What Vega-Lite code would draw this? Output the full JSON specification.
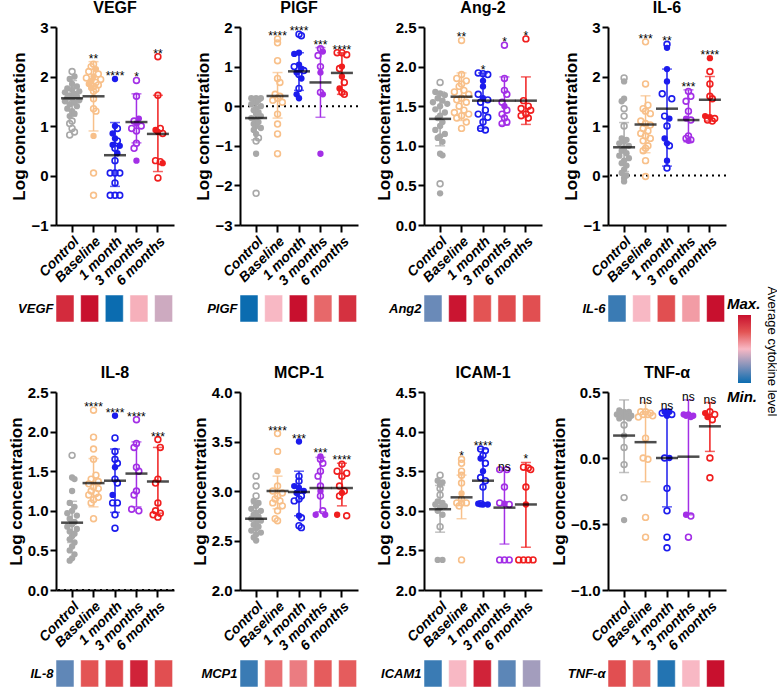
{
"$schema": "https://vega.github.io/schema/vega-lite/v6.json",
"padding": {"left": 7, "top": 0, "right": 0, "bottom": 0},
"columns": 4,
"bounds": "flush",
"align": "each",
"spacing": {"row": 70, "column": 62},
"datasets": {
"d": [
{"p":"VEGF","g":"C","v":2.1,"j":0,"f":0},{"p":"VEGF","g":"C","v":2.0,"j":1,"f":1},{"p":"VEGF","g":"C","v":1.95,"j":-1,"f":1},{"p":"VEGF","g":"C","v":1.85,"j":0,"f":1},{"p":"VEGF","g":"C","v":1.8,"j":2,"f":1},{"p":"VEGF","g":"C","v":1.76,"j":-2,"f":1},{"p":"VEGF","g":"C","v":1.73,"j":0,"f":1},{"p":"VEGF","g":"C","v":1.7,"j":3,"f":1},{"p":"VEGF","g":"C","v":1.68,"j":-3,"f":1},{"p":"VEGF","g":"C","v":1.65,"j":1,"f":1},{"p":"VEGF","g":"C","v":1.62,"j":-1,"f":1},{"p":"VEGF","g":"C","v":1.6,"j":2,"f":1},{"p":"VEGF","g":"C","v":1.57,"j":-2,"f":1},{"p":"VEGF","g":"C","v":1.55,"j":0,"f":1},{"p":"VEGF","g":"C","v":1.52,"j":3,"f":1},{"p":"VEGF","g":"C","v":1.5,"j":-3,"f":1},{"p":"VEGF","g":"C","v":1.47,"j":1,"f":1},{"p":"VEGF","g":"C","v":1.44,"j":-1,"f":1},{"p":"VEGF","g":"C","v":1.4,"j":2,"f":1},{"p":"VEGF","g":"C","v":1.35,"j":-2,"f":1},{"p":"VEGF","g":"C","v":1.3,"j":0,"f":1},{"p":"VEGF","g":"C","v":1.25,"j":1,"f":1},{"p":"VEGF","g":"C","v":1.2,"j":-1,"f":1},{"p":"VEGF","g":"C","v":1.1,"j":0,"f":0},{"p":"VEGF","g":"C","v":1.05,"j":-1,"f":0},{"p":"VEGF","g":"C","v":0.95,"j":0,"f":0},{"p":"VEGF","g":"C","v":0.88,"j":1,"f":0},{"p":"VEGF","g":"C","v":0.82,"j":-1,"f":0},
{"p":"VEGF","g":"B","v":2.25,"j":0,"f":0},{"p":"VEGF","g":"B","v":2.2,"j":-1,"f":0},{"p":"VEGF","g":"B","v":2.15,"j":1,"f":1},{"p":"VEGF","g":"B","v":2.1,"j":-2,"f":0},{"p":"VEGF","g":"B","v":2.05,"j":2,"f":0},{"p":"VEGF","g":"B","v":2.0,"j":0,"f":1},{"p":"VEGF","g":"B","v":1.97,"j":-3,"f":0},{"p":"VEGF","g":"B","v":1.94,"j":3,"f":0},{"p":"VEGF","g":"B","v":1.91,"j":-1,"f":1},{"p":"VEGF","g":"B","v":1.88,"j":1,"f":0},{"p":"VEGF","g":"B","v":1.85,"j":-2,"f":1},{"p":"VEGF","g":"B","v":1.83,"j":2,"f":0},{"p":"VEGF","g":"B","v":1.8,"j":0,"f":0},{"p":"VEGF","g":"B","v":1.77,"j":-1,"f":1},{"p":"VEGF","g":"B","v":1.74,"j":1,"f":0},{"p":"VEGF","g":"B","v":1.7,"j":0,"f":0},{"p":"VEGF","g":"B","v":1.55,"j":0,"f":0},{"p":"VEGF","g":"B","v":1.35,"j":0,"f":0},{"p":"VEGF","g":"B","v":1.3,"j":1,"f":0},{"p":"VEGF","g":"B","v":0.8,"j":0,"f":1},{"p":"VEGF","g":"B","v":0.05,"j":0,"f":0},{"p":"VEGF","g":"B","v":-0.4,"j":0,"f":0},
{"p":"VEGF","g":"1","v":1.95,"j":0,"f":1},{"p":"VEGF","g":"1","v":1.0,"j":0,"f":1},{"p":"VEGF","g":"1","v":0.95,"j":1,"f":0},{"p":"VEGF","g":"1","v":0.85,"j":-1,"f":1},{"p":"VEGF","g":"1","v":0.75,"j":0,"f":1},{"p":"VEGF","g":"1","v":0.7,"j":1,"f":0},{"p":"VEGF","g":"1","v":0.62,"j":-1,"f":1},{"p":"VEGF","g":"1","v":0.6,"j":2,"f":1},{"p":"VEGF","g":"1","v":0.55,"j":0,"f":0},{"p":"VEGF","g":"1","v":0.45,"j":1,"f":1},{"p":"VEGF","g":"1","v":0.3,"j":0,"f":0},{"p":"VEGF","g":"1","v":0.05,"j":-2,"f":0},{"p":"VEGF","g":"1","v":0.05,"j":0,"f":0},{"p":"VEGF","g":"1","v":0.05,"j":2,"f":0},{"p":"VEGF","g":"1","v":-0.15,"j":0,"f":0},{"p":"VEGF","g":"1","v":-0.4,"j":-2,"f":0},{"p":"VEGF","g":"1","v":-0.4,"j":0,"f":0},{"p":"VEGF","g":"1","v":-0.4,"j":2,"f":0},
{"p":"VEGF","g":"3","v":1.92,"j":0,"f":0},{"p":"VEGF","g":"3","v":1.6,"j":0,"f":0},{"p":"VEGF","g":"3","v":1.15,"j":1,"f":1},{"p":"VEGF","g":"3","v":1.1,"j":-1,"f":0},{"p":"VEGF","g":"3","v":1.05,"j":0,"f":1},{"p":"VEGF","g":"3","v":1.0,"j":2,"f":0},{"p":"VEGF","g":"3","v":0.95,"j":-2,"f":0},{"p":"VEGF","g":"3","v":0.9,"j":0,"f":0},{"p":"VEGF","g":"3","v":0.65,"j":0,"f":0},{"p":"VEGF","g":"3","v":0.55,"j":-1,"f":0},{"p":"VEGF","g":"3","v":0.3,"j":0,"f":1},
{"p":"VEGF","g":"6","v":2.4,"j":0,"f":0},{"p":"VEGF","g":"6","v":1.62,"j":0,"f":0},{"p":"VEGF","g":"6","v":0.95,"j":1,"f":0},{"p":"VEGF","g":"6","v":0.92,"j":-1,"f":1},{"p":"VEGF","g":"6","v":0.88,"j":0,"f":1},{"p":"VEGF","g":"6","v":0.85,"j":2,"f":0},{"p":"VEGF","g":"6","v":0.3,"j":-1,"f":0},{"p":"VEGF","g":"6","v":0.28,"j":1,"f":0},{"p":"VEGF","g":"6","v":0.25,"j":2,"f":1},{"p":"VEGF","g":"6","v":-0.05,"j":0,"f":0},
{"p":"VEGF","g":"C","m":1.56,"lo":1.2,"hi":1.92},{"p":"VEGF","g":"B","m":1.6,"lo":0.9,"hi":2.3,"s":"**"},{"p":"VEGF","g":"1","m":0.41,"lo":-0.22,"hi":1.07,"s":"****"},{"p":"VEGF","g":"3","m":1.08,"lo":0.66,"hi":1.65,"s":"*"},{"p":"VEGF","g":"6","m":0.84,"lo":0.08,"hi":1.62,"s":"**"},

{"p":"PlGF","g":"C","v":0.2,"j":0,"f":1},{"p":"PlGF","g":"C","v":0.2,"j":-2,"f":1},{"p":"PlGF","g":"C","v":0.2,"j":2,"f":1},{"p":"PlGF","g":"C","v":0.18,"j":-1,"f":1},{"p":"PlGF","g":"C","v":0.15,"j":1,"f":1},{"p":"PlGF","g":"C","v":0.1,"j":0,"f":1},{"p":"PlGF","g":"C","v":0.05,"j":-2,"f":1},{"p":"PlGF","g":"C","v":0.0,"j":2,"f":1},{"p":"PlGF","g":"C","v":-0.05,"j":0,"f":1},{"p":"PlGF","g":"C","v":-0.1,"j":-1,"f":1},{"p":"PlGF","g":"C","v":-0.15,"j":1,"f":1},{"p":"PlGF","g":"C","v":-0.2,"j":0,"f":1},{"p":"PlGF","g":"C","v":-0.25,"j":2,"f":1},{"p":"PlGF","g":"C","v":-0.3,"j":-2,"f":1},{"p":"PlGF","g":"C","v":-0.35,"j":0,"f":1},{"p":"PlGF","g":"C","v":-0.4,"j":1,"f":1},{"p":"PlGF","g":"C","v":-0.45,"j":-1,"f":1},{"p":"PlGF","g":"C","v":-0.5,"j":0,"f":1},{"p":"PlGF","g":"C","v":-0.55,"j":2,"f":1},{"p":"PlGF","g":"C","v":-0.6,"j":-1,"f":1},{"p":"PlGF","g":"C","v":-0.7,"j":0,"f":1},{"p":"PlGF","g":"C","v":-0.8,"j":1,"f":0},{"p":"PlGF","g":"C","v":-0.88,"j":0,"f":0},{"p":"PlGF","g":"C","v":-1.2,"j":0,"f":1},{"p":"PlGF","g":"C","v":-2.2,"j":0,"f":0},
{"p":"PlGF","g":"B","v":1.7,"j":0,"f":0},{"p":"PlGF","g":"B","v":1.6,"j":0,"f":0},{"p":"PlGF","g":"B","v":1.15,"j":0,"f":0},{"p":"PlGF","g":"B","v":0.7,"j":0,"f":0},{"p":"PlGF","g":"B","v":0.6,"j":1,"f":0},{"p":"PlGF","g":"B","v":0.3,"j":-1,"f":0},{"p":"PlGF","g":"B","v":0.25,"j":1,"f":0},{"p":"PlGF","g":"B","v":0.2,"j":0,"f":0},{"p":"PlGF","g":"B","v":0.15,"j":-2,"f":0},{"p":"PlGF","g":"B","v":0.1,"j":2,"f":0},{"p":"PlGF","g":"B","v":-0.2,"j":0,"f":0},{"p":"PlGF","g":"B","v":-0.45,"j":0,"f":0},{"p":"PlGF","g":"B","v":-0.7,"j":0,"f":0},{"p":"PlGF","g":"B","v":-1.2,"j":0,"f":0},
{"p":"PlGF","g":"1","v":1.82,"j":0,"f":0},{"p":"PlGF","g":"1","v":1.78,"j":1,"f":0},{"p":"PlGF","g":"1","v":1.35,"j":0,"f":1},{"p":"PlGF","g":"1","v":1.32,"j":-2,"f":1},{"p":"PlGF","g":"1","v":1.05,"j":0,"f":1},{"p":"PlGF","g":"1","v":1.0,"j":-2,"f":0},{"p":"PlGF","g":"1","v":0.95,"j":1,"f":1},{"p":"PlGF","g":"1","v":0.9,"j":2,"f":0},{"p":"PlGF","g":"1","v":0.85,"j":-1,"f":1},{"p":"PlGF","g":"1","v":0.8,"j":0,"f":0},{"p":"PlGF","g":"1","v":0.7,"j":1,"f":1},{"p":"PlGF","g":"1","v":0.45,"j":0,"f":0},{"p":"PlGF","g":"1","v":0.3,"j":-1,"f":1},{"p":"PlGF","g":"1","v":0.2,"j":0,"f":1},
{"p":"PlGF","g":"3","v":1.45,"j":0,"f":0},{"p":"PlGF","g":"3","v":1.38,"j":1,"f":1},{"p":"PlGF","g":"3","v":1.28,"j":-1,"f":0},{"p":"PlGF","g":"3","v":1.0,"j":0,"f":0},{"p":"PlGF","g":"3","v":0.85,"j":0,"f":1},{"p":"PlGF","g":"3","v":0.35,"j":0,"f":0},{"p":"PlGF","g":"3","v":0.3,"j":1,"f":1},{"p":"PlGF","g":"3","v":-1.2,"j":0,"f":1},
{"p":"PlGF","g":"6","v":1.35,"j":-2,"f":0},{"p":"PlGF","g":"6","v":1.35,"j":0,"f":0},{"p":"PlGF","g":"6","v":1.3,"j":2,"f":0},{"p":"PlGF","g":"6","v":1.0,"j":0,"f":1},{"p":"PlGF","g":"6","v":0.95,"j":-1,"f":0},{"p":"PlGF","g":"6","v":0.75,"j":0,"f":1},{"p":"PlGF","g":"6","v":0.6,"j":1,"f":0},{"p":"PlGF","g":"6","v":0.45,"j":-1,"f":1},{"p":"PlGF","g":"6","v":0.35,"j":0,"f":0},{"p":"PlGF","g":"6","v":0.3,"j":1,"f":0},
{"p":"PlGF","g":"C","m":-0.3,"lo":-0.85,"hi":0.22},{"p":"PlGF","g":"B","m":0.26,"lo":-0.3,"hi":0.85,"s":"****"},{"p":"PlGF","g":"1","m":0.88,"lo":0.4,"hi":1.35,"s":"****"},{"p":"PlGF","g":"3","m":0.6,"lo":-0.28,"hi":1.48,"s":"***"},{"p":"PlGF","g":"6","m":0.84,"lo":0.3,"hi":1.35,"s":"****"},

{"p":"Ang-2","g":"C","v":1.8,"j":0,"f":0},{"p":"Ang-2","g":"C","v":1.68,"j":-2,"f":1},{"p":"Ang-2","g":"C","v":1.66,"j":0,"f":1},{"p":"Ang-2","g":"C","v":1.64,"j":2,"f":1},{"p":"Ang-2","g":"C","v":1.6,"j":-1,"f":1},{"p":"Ang-2","g":"C","v":1.57,"j":1,"f":1},{"p":"Ang-2","g":"C","v":1.55,"j":-3,"f":1},{"p":"Ang-2","g":"C","v":1.53,"j":3,"f":1},{"p":"Ang-2","g":"C","v":1.5,"j":0,"f":1},{"p":"Ang-2","g":"C","v":1.46,"j":-2,"f":1},{"p":"Ang-2","g":"C","v":1.42,"j":2,"f":1},{"p":"Ang-2","g":"C","v":1.38,"j":0,"f":1},{"p":"Ang-2","g":"C","v":1.35,"j":-1,"f":1},{"p":"Ang-2","g":"C","v":1.3,"j":1,"f":1},{"p":"Ang-2","g":"C","v":1.25,"j":0,"f":1},{"p":"Ang-2","g":"C","v":1.2,"j":-2,"f":1},{"p":"Ang-2","g":"C","v":1.15,"j":2,"f":1},{"p":"Ang-2","g":"C","v":1.12,"j":0,"f":1},{"p":"Ang-2","g":"C","v":1.1,"j":-1,"f":1},{"p":"Ang-2","g":"C","v":1.05,"j":1,"f":1},{"p":"Ang-2","g":"C","v":0.9,"j":0,"f":1},{"p":"Ang-2","g":"C","v":0.88,"j":1,"f":1},{"p":"Ang-2","g":"C","v":0.52,"j":0,"f":0},{"p":"Ang-2","g":"C","v":0.4,"j":0,"f":1},
{"p":"Ang-2","g":"B","v":2.33,"j":0,"f":0},{"p":"Ang-2","g":"B","v":1.9,"j":0,"f":0},{"p":"Ang-2","g":"B","v":1.85,"j":-2,"f":0},{"p":"Ang-2","g":"B","v":1.82,"j":2,"f":0},{"p":"Ang-2","g":"B","v":1.78,"j":0,"f":0},{"p":"Ang-2","g":"B","v":1.75,"j":-1,"f":0},{"p":"Ang-2","g":"B","v":1.7,"j":1,"f":0},{"p":"Ang-2","g":"B","v":1.68,"j":-3,"f":0},{"p":"Ang-2","g":"B","v":1.65,"j":3,"f":0},{"p":"Ang-2","g":"B","v":1.6,"j":0,"f":0},{"p":"Ang-2","g":"B","v":1.58,"j":-2,"f":0},{"p":"Ang-2","g":"B","v":1.55,"j":2,"f":0},{"p":"Ang-2","g":"B","v":1.5,"j":-1,"f":0},{"p":"Ang-2","g":"B","v":1.45,"j":1,"f":0},{"p":"Ang-2","g":"B","v":1.42,"j":-3,"f":0},{"p":"Ang-2","g":"B","v":1.4,"j":3,"f":0},{"p":"Ang-2","g":"B","v":1.38,"j":0,"f":0},{"p":"Ang-2","g":"B","v":1.35,"j":-2,"f":0},{"p":"Ang-2","g":"B","v":1.3,"j":2,"f":0},{"p":"Ang-2","g":"B","v":1.22,"j":0,"f":0},
{"p":"Ang-2","g":"1","v":1.92,"j":-2,"f":0},{"p":"Ang-2","g":"1","v":1.91,"j":0,"f":0},{"p":"Ang-2","g":"1","v":1.9,"j":2,"f":0},{"p":"Ang-2","g":"1","v":1.82,"j":0,"f":1},{"p":"Ang-2","g":"1","v":1.75,"j":0,"f":1},{"p":"Ang-2","g":"1","v":1.65,"j":-2,"f":0},{"p":"Ang-2","g":"1","v":1.6,"j":0,"f":1},{"p":"Ang-2","g":"1","v":1.58,"j":2,"f":0},{"p":"Ang-2","g":"1","v":1.55,"j":-1,"f":0},{"p":"Ang-2","g":"1","v":1.45,"j":1,"f":0},{"p":"Ang-2","g":"1","v":1.4,"j":-2,"f":0},{"p":"Ang-2","g":"1","v":1.36,"j":2,"f":0},{"p":"Ang-2","g":"1","v":1.3,"j":0,"f":0},{"p":"Ang-2","g":"1","v":1.22,"j":-1,"f":0},{"p":"Ang-2","g":"1","v":1.2,"j":1,"f":0},
{"p":"Ang-2","g":"3","v":2.27,"j":0,"f":0},{"p":"Ang-2","g":"3","v":1.85,"j":0,"f":0},{"p":"Ang-2","g":"3","v":1.7,"j":0,"f":0},{"p":"Ang-2","g":"3","v":1.65,"j":1,"f":0},{"p":"Ang-2","g":"3","v":1.55,"j":-1,"f":0},{"p":"Ang-2","g":"3","v":1.5,"j":0,"f":1},{"p":"Ang-2","g":"3","v":1.45,"j":1,"f":0},{"p":"Ang-2","g":"3","v":1.4,"j":-1,"f":0},{"p":"Ang-2","g":"3","v":1.35,"j":0,"f":0},{"p":"Ang-2","g":"3","v":1.3,"j":1,"f":0},{"p":"Ang-2","g":"3","v":1.28,"j":-1,"f":0},
{"p":"Ang-2","g":"6","v":2.35,"j":0,"f":0},{"p":"Ang-2","g":"6","v":1.57,"j":-1,"f":0},{"p":"Ang-2","g":"6","v":1.5,"j":1,"f":0},{"p":"Ang-2","g":"6","v":1.47,"j":-2,"f":0},{"p":"Ang-2","g":"6","v":1.45,"j":2,"f":0},{"p":"Ang-2","g":"6","v":1.4,"j":0,"f":0},{"p":"Ang-2","g":"6","v":1.38,"j":-2,"f":0},{"p":"Ang-2","g":"6","v":1.35,"j":1,"f":0},
{"p":"Ang-2","g":"C","m":1.34,"lo":1.0,"hi":1.68},{"p":"Ang-2","g":"B","m":1.62,"lo":1.32,"hi":1.92,"s":"**"},{"p":"Ang-2","g":"1","m":1.57,"lo":1.22,"hi":1.92,"s":"*"},{"p":"Ang-2","g":"3","m":1.57,"lo":1.26,"hi":1.87,"s":"*"},{"p":"Ang-2","g":"6","m":1.57,"lo":1.27,"hi":1.87,"s":"*"},

{"p":"IL-6","g":"C","v":1.97,"j":0,"f":0},{"p":"IL-6","g":"C","v":1.9,"j":0,"f":1},{"p":"IL-6","g":"C","v":1.55,"j":0,"f":1},{"p":"IL-6","g":"C","v":1.5,"j":-1,"f":1},{"p":"IL-6","g":"C","v":1.35,"j":0,"f":0},{"p":"IL-6","g":"C","v":1.2,"j":0,"f":0},{"p":"IL-6","g":"C","v":1.0,"j":0,"f":0},{"p":"IL-6","g":"C","v":0.75,"j":-1,"f":1},{"p":"IL-6","g":"C","v":0.72,"j":1,"f":1},{"p":"IL-6","g":"C","v":0.68,"j":0,"f":1},{"p":"IL-6","g":"C","v":0.65,"j":-2,"f":1},{"p":"IL-6","g":"C","v":0.6,"j":2,"f":1},{"p":"IL-6","g":"C","v":0.55,"j":0,"f":1},{"p":"IL-6","g":"C","v":0.5,"j":-1,"f":1},{"p":"IL-6","g":"C","v":0.45,"j":1,"f":1},{"p":"IL-6","g":"C","v":0.4,"j":-2,"f":1},{"p":"IL-6","g":"C","v":0.35,"j":2,"f":1},{"p":"IL-6","g":"C","v":0.3,"j":0,"f":1},{"p":"IL-6","g":"C","v":0.25,"j":-1,"f":1},{"p":"IL-6","g":"C","v":0.2,"j":1,"f":1},{"p":"IL-6","g":"C","v":0.12,"j":0,"f":1},{"p":"IL-6","g":"C","v":0.05,"j":-1,"f":1},{"p":"IL-6","g":"C","v":0.0,"j":1,"f":1},{"p":"IL-6","g":"C","v":-0.05,"j":0,"f":1},{"p":"IL-6","g":"C","v":-0.12,"j":0,"f":1},
{"p":"IL-6","g":"B","v":2.7,"j":0,"f":0},{"p":"IL-6","g":"B","v":1.85,"j":0,"f":0},{"p":"IL-6","g":"B","v":1.42,"j":1,"f":0},{"p":"IL-6","g":"B","v":1.35,"j":-1,"f":0},{"p":"IL-6","g":"B","v":1.3,"j":0,"f":0},{"p":"IL-6","g":"B","v":1.25,"j":2,"f":0},{"p":"IL-6","g":"B","v":1.1,"j":-2,"f":0},{"p":"IL-6","g":"B","v":1.05,"j":0,"f":0},{"p":"IL-6","g":"B","v":1.02,"j":2,"f":0},{"p":"IL-6","g":"B","v":0.95,"j":-1,"f":0},{"p":"IL-6","g":"B","v":0.9,"j":1,"f":0},{"p":"IL-6","g":"B","v":0.85,"j":-2,"f":0},{"p":"IL-6","g":"B","v":0.8,"j":0,"f":0},{"p":"IL-6","g":"B","v":0.75,"j":2,"f":0},{"p":"IL-6","g":"B","v":0.7,"j":-1,"f":0},{"p":"IL-6","g":"B","v":0.6,"j":1,"f":0},{"p":"IL-6","g":"B","v":0.55,"j":0,"f":0},{"p":"IL-6","g":"B","v":0.5,"j":-1,"f":0},{"p":"IL-6","g":"B","v":0.3,"j":0,"f":0},{"p":"IL-6","g":"B","v":-0.02,"j":0,"f":0},
{"p":"IL-6","g":"1","v":2.65,"j":0,"f":0},{"p":"IL-6","g":"1","v":2.58,"j":0,"f":1},{"p":"IL-6","g":"1","v":2.15,"j":0,"f":1},{"p":"IL-6","g":"1","v":1.9,"j":0,"f":1},{"p":"IL-6","g":"1","v":1.65,"j":-2,"f":0},{"p":"IL-6","g":"1","v":1.55,"j":2,"f":0},{"p":"IL-6","g":"1","v":1.2,"j":-1,"f":0},{"p":"IL-6","g":"1","v":1.15,"j":1,"f":1},{"p":"IL-6","g":"1","v":1.0,"j":0,"f":0},{"p":"IL-6","g":"1","v":0.75,"j":-1,"f":1},{"p":"IL-6","g":"1","v":0.65,"j":0,"f":1},{"p":"IL-6","g":"1","v":0.6,"j":1,"f":0},{"p":"IL-6","g":"1","v":0.3,"j":0,"f":1},{"p":"IL-6","g":"1","v":0.15,"j":0,"f":0},
{"p":"IL-6","g":"3","v":1.7,"j":0,"f":0},{"p":"IL-6","g":"3","v":1.6,"j":1,"f":0},{"p":"IL-6","g":"3","v":1.5,"j":-1,"f":0},{"p":"IL-6","g":"3","v":1.3,"j":0,"f":0},{"p":"IL-6","g":"3","v":1.15,"j":-1,"f":1},{"p":"IL-6","g":"3","v":1.12,"j":1,"f":0},{"p":"IL-6","g":"3","v":0.8,"j":0,"f":0},{"p":"IL-6","g":"3","v":0.75,"j":-1,"f":0},{"p":"IL-6","g":"3","v":0.72,"j":1,"f":0},{"p":"IL-6","g":"3","v":0.7,"j":0,"f":1},
{"p":"IL-6","g":"6","v":2.37,"j":0,"f":1},{"p":"IL-6","g":"6","v":2.1,"j":0,"f":0},{"p":"IL-6","g":"6","v":1.85,"j":0,"f":0},{"p":"IL-6","g":"6","v":1.6,"j":0,"f":0},{"p":"IL-6","g":"6","v":1.55,"j":1,"f":0},{"p":"IL-6","g":"6","v":1.2,"j":-2,"f":1},{"p":"IL-6","g":"6","v":1.18,"j":0,"f":1},{"p":"IL-6","g":"6","v":1.15,"j":2,"f":0},{"p":"IL-6","g":"6","v":1.12,"j":-1,"f":0},{"p":"IL-6","g":"6","v":1.1,"j":1,"f":0},
{"p":"IL-6","g":"C","m":0.57,"lo":0.08,"hi":1.07},{"p":"IL-6","g":"B","m":1.03,"lo":0.46,"hi":1.61,"s":"***"},{"p":"IL-6","g":"1","m":1.35,"lo":0.19,"hi":2.15,"s":"**"},{"p":"IL-6","g":"3","m":1.12,"lo":0.68,"hi":1.73,"s":"***"},{"p":"IL-6","g":"6","m":1.53,"lo":1.1,"hi":2.0,"s":"****"},

{"p":"IL-8","g":"C","v":1.7,"j":0,"f":0},{"p":"IL-8","g":"C","v":1.42,"j":0,"f":1},{"p":"IL-8","g":"C","v":1.4,"j":1,"f":1},{"p":"IL-8","g":"C","v":1.25,"j":0,"f":1},{"p":"IL-8","g":"C","v":1.1,"j":-1,"f":1},{"p":"IL-8","g":"C","v":1.05,"j":1,"f":1},{"p":"IL-8","g":"C","v":1.0,"j":0,"f":1},{"p":"IL-8","g":"C","v":0.97,"j":-2,"f":1},{"p":"IL-8","g":"C","v":0.94,"j":2,"f":1},{"p":"IL-8","g":"C","v":0.9,"j":-1,"f":1},{"p":"IL-8","g":"C","v":0.86,"j":1,"f":1},{"p":"IL-8","g":"C","v":0.83,"j":0,"f":1},{"p":"IL-8","g":"C","v":0.8,"j":-2,"f":1},{"p":"IL-8","g":"C","v":0.77,"j":2,"f":1},{"p":"IL-8","g":"C","v":0.74,"j":-1,"f":1},{"p":"IL-8","g":"C","v":0.71,"j":1,"f":1},{"p":"IL-8","g":"C","v":0.68,"j":0,"f":1},{"p":"IL-8","g":"C","v":0.64,"j":-1,"f":1},{"p":"IL-8","g":"C","v":0.6,"j":1,"f":1},{"p":"IL-8","g":"C","v":0.55,"j":0,"f":1},{"p":"IL-8","g":"C","v":0.5,"j":-1,"f":1},{"p":"IL-8","g":"C","v":0.45,"j":1,"f":1},{"p":"IL-8","g":"C","v":0.4,"j":0,"f":1},{"p":"IL-8","g":"C","v":0.37,"j":-1,"f":1},
{"p":"IL-8","g":"B","v":2.27,"j":0,"f":0},{"p":"IL-8","g":"B","v":1.93,"j":0,"f":0},{"p":"IL-8","g":"B","v":1.78,"j":0,"f":0},{"p":"IL-8","g":"B","v":1.65,"j":0,"f":0},{"p":"IL-8","g":"B","v":1.45,"j":1,"f":0},{"p":"IL-8","g":"B","v":1.4,"j":-1,"f":0},{"p":"IL-8","g":"B","v":1.37,"j":2,"f":0},{"p":"IL-8","g":"B","v":1.34,"j":-2,"f":0},{"p":"IL-8","g":"B","v":1.3,"j":0,"f":0},{"p":"IL-8","g":"B","v":1.28,"j":2,"f":0},{"p":"IL-8","g":"B","v":1.25,"j":-1,"f":0},{"p":"IL-8","g":"B","v":1.22,"j":1,"f":0},{"p":"IL-8","g":"B","v":1.2,"j":-2,"f":0},{"p":"IL-8","g":"B","v":1.17,"j":2,"f":0},{"p":"IL-8","g":"B","v":1.14,"j":0,"f":0},{"p":"IL-8","g":"B","v":1.1,"j":-1,"f":0},{"p":"IL-8","g":"B","v":0.9,"j":0,"f":0},
{"p":"IL-8","g":"1","v":2.2,"j":0,"f":1},{"p":"IL-8","g":"1","v":1.92,"j":0,"f":0},{"p":"IL-8","g":"1","v":1.75,"j":0,"f":0},{"p":"IL-8","g":"1","v":1.65,"j":0,"f":0},{"p":"IL-8","g":"1","v":1.6,"j":1,"f":0},{"p":"IL-8","g":"1","v":1.55,"j":0,"f":1},{"p":"IL-8","g":"1","v":1.4,"j":0,"f":0},{"p":"IL-8","g":"1","v":1.35,"j":1,"f":0},{"p":"IL-8","g":"1","v":1.2,"j":-1,"f":1},{"p":"IL-8","g":"1","v":1.1,"j":-1,"f":0},{"p":"IL-8","g":"1","v":1.1,"j":1,"f":0},{"p":"IL-8","g":"1","v":0.95,"j":0,"f":0},{"p":"IL-8","g":"1","v":0.78,"j":0,"f":0},
{"p":"IL-8","g":"3","v":2.15,"j":0,"f":0},{"p":"IL-8","g":"3","v":1.85,"j":0,"f":0},{"p":"IL-8","g":"3","v":1.8,"j":-1,"f":0},{"p":"IL-8","g":"3","v":1.55,"j":0,"f":0},{"p":"IL-8","g":"3","v":1.5,"j":1,"f":0},{"p":"IL-8","g":"3","v":1.25,"j":0,"f":0},{"p":"IL-8","g":"3","v":1.2,"j":-1,"f":0},{"p":"IL-8","g":"3","v":1.02,"j":-2,"f":0},{"p":"IL-8","g":"3","v":1.0,"j":1,"f":0},
{"p":"IL-8","g":"6","v":1.9,"j":0,"f":0},{"p":"IL-8","g":"6","v":1.8,"j":1,"f":0},{"p":"IL-8","g":"6","v":1.4,"j":0,"f":0},{"p":"IL-8","g":"6","v":1.35,"j":-1,"f":0},{"p":"IL-8","g":"6","v":1.1,"j":0,"f":0},{"p":"IL-8","g":"6","v":1.0,"j":-1,"f":0},{"p":"IL-8","g":"6","v":0.97,"j":1,"f":0},{"p":"IL-8","g":"6","v":0.95,"j":-2,"f":0},{"p":"IL-8","g":"6","v":0.92,"j":0,"f":0},
{"p":"IL-8","g":"C","m":0.85,"lo":0.6,"hi":1.12},{"p":"IL-8","g":"B","m":1.35,"lo":1.05,"hi":1.66,"s":"****"},{"p":"IL-8","g":"1","m":1.38,"lo":0.98,"hi":1.78,"s":"****"},{"p":"IL-8","g":"3","m":1.47,"lo":1.05,"hi":1.87,"s":"****"},{"p":"IL-8","g":"6","m":1.37,"lo":0.97,"hi":1.8,"s":"***"},

{"p":"MCP-1","g":"C","v":3.15,"j":0,"f":0},{"p":"MCP-1","g":"C","v":3.05,"j":0,"f":0},{"p":"MCP-1","g":"C","v":2.95,"j":0,"f":0},{"p":"MCP-1","g":"C","v":2.9,"j":-1,"f":1},{"p":"MCP-1","g":"C","v":2.88,"j":1,"f":1},{"p":"MCP-1","g":"C","v":2.85,"j":0,"f":1},{"p":"MCP-1","g":"C","v":2.82,"j":-2,"f":1},{"p":"MCP-1","g":"C","v":2.8,"j":2,"f":1},{"p":"MCP-1","g":"C","v":2.78,"j":0,"f":1},{"p":"MCP-1","g":"C","v":2.76,"j":-1,"f":1},{"p":"MCP-1","g":"C","v":2.74,"j":1,"f":1},{"p":"MCP-1","g":"C","v":2.72,"j":-2,"f":1},{"p":"MCP-1","g":"C","v":2.7,"j":2,"f":1},{"p":"MCP-1","g":"C","v":2.68,"j":0,"f":1},{"p":"MCP-1","g":"C","v":2.66,"j":-1,"f":1},{"p":"MCP-1","g":"C","v":2.64,"j":1,"f":1},{"p":"MCP-1","g":"C","v":2.62,"j":0,"f":1},{"p":"MCP-1","g":"C","v":2.6,"j":-2,"f":1},{"p":"MCP-1","g":"C","v":2.58,"j":2,"f":1},{"p":"MCP-1","g":"C","v":2.56,"j":0,"f":1},{"p":"MCP-1","g":"C","v":2.53,"j":-1,"f":1},{"p":"MCP-1","g":"C","v":2.5,"j":0,"f":1},
{"p":"MCP-1","g":"B","v":3.58,"j":0,"f":0},{"p":"MCP-1","g":"B","v":3.4,"j":0,"f":0},{"p":"MCP-1","g":"B","v":3.2,"j":0,"f":1},{"p":"MCP-1","g":"B","v":3.05,"j":0,"f":0},{"p":"MCP-1","g":"B","v":3.0,"j":-2,"f":0},{"p":"MCP-1","g":"B","v":2.98,"j":2,"f":0},{"p":"MCP-1","g":"B","v":2.95,"j":0,"f":0},{"p":"MCP-1","g":"B","v":2.92,"j":-1,"f":0},{"p":"MCP-1","g":"B","v":2.9,"j":1,"f":0},{"p":"MCP-1","g":"B","v":2.88,"j":-2,"f":0},{"p":"MCP-1","g":"B","v":2.85,"j":2,"f":0},{"p":"MCP-1","g":"B","v":2.8,"j":0,"f":0},{"p":"MCP-1","g":"B","v":2.72,"j":-1,"f":0},{"p":"MCP-1","g":"B","v":2.7,"j":0,"f":0},
{"p":"MCP-1","g":"1","v":3.5,"j":0,"f":1},{"p":"MCP-1","g":"1","v":3.15,"j":0,"f":0},{"p":"MCP-1","g":"1","v":3.1,"j":0,"f":0},{"p":"MCP-1","g":"1","v":3.05,"j":-2,"f":1},{"p":"MCP-1","g":"1","v":3.03,"j":0,"f":1},{"p":"MCP-1","g":"1","v":3.0,"j":2,"f":1},{"p":"MCP-1","g":"1","v":2.98,"j":-1,"f":1},{"p":"MCP-1","g":"1","v":2.95,"j":1,"f":0},{"p":"MCP-1","g":"1","v":2.92,"j":0,"f":0},{"p":"MCP-1","g":"1","v":2.9,"j":-2,"f":0},{"p":"MCP-1","g":"1","v":2.75,"j":0,"f":1},{"p":"MCP-1","g":"1","v":2.73,"j":1,"f":0},{"p":"MCP-1","g":"1","v":2.65,"j":0,"f":0},{"p":"MCP-1","g":"1","v":2.63,"j":1,"f":0},
{"p":"MCP-1","g":"3","v":3.35,"j":0,"f":1},{"p":"MCP-1","g":"3","v":3.32,"j":0,"f":0},{"p":"MCP-1","g":"3","v":3.28,"j":1,"f":0},{"p":"MCP-1","g":"3","v":3.2,"j":0,"f":0},{"p":"MCP-1","g":"3","v":3.15,"j":-1,"f":0},{"p":"MCP-1","g":"3","v":3.05,"j":0,"f":0},{"p":"MCP-1","g":"3","v":3.0,"j":0,"f":1},{"p":"MCP-1","g":"3","v":2.95,"j":0,"f":0},{"p":"MCP-1","g":"3","v":2.8,"j":1,"f":0},{"p":"MCP-1","g":"3","v":2.76,"j":-2,"f":1},{"p":"MCP-1","g":"3","v":2.76,"j":2,"f":1},
{"p":"MCP-1","g":"6","v":3.27,"j":0,"f":0},{"p":"MCP-1","g":"6","v":3.2,"j":-2,"f":0},{"p":"MCP-1","g":"6","v":3.18,"j":2,"f":0},{"p":"MCP-1","g":"6","v":3.15,"j":0,"f":0},{"p":"MCP-1","g":"6","v":3.05,"j":-1,"f":0},{"p":"MCP-1","g":"6","v":3.0,"j":1,"f":0},{"p":"MCP-1","g":"6","v":2.98,"j":0,"f":1},{"p":"MCP-1","g":"6","v":2.95,"j":-1,"f":0},{"p":"MCP-1","g":"6","v":2.76,"j":-2,"f":1},{"p":"MCP-1","g":"6","v":2.75,"j":2,"f":0},
{"p":"MCP-1","g":"C","m":2.72,"lo":2.58,"hi":2.87},{"p":"MCP-1","g":"B","m":3.0,"lo":2.82,"hi":3.15,"s":"****"},{"p":"MCP-1","g":"1","m":2.99,"lo":2.75,"hi":3.2,"s":"***"},{"p":"MCP-1","g":"3","m":3.03,"lo":2.79,"hi":3.34,"s":"***"},{"p":"MCP-1","g":"6","m":3.03,"lo":2.85,"hi":3.28,"s":"****"},

{"p":"ICAM-1","g":"C","v":3.45,"j":0,"f":0},{"p":"ICAM-1","g":"C","v":3.38,"j":-1,"f":1},{"p":"ICAM-1","g":"C","v":3.36,"j":1,"f":1},{"p":"ICAM-1","g":"C","v":3.33,"j":0,"f":1},{"p":"ICAM-1","g":"C","v":3.28,"j":0,"f":0},{"p":"ICAM-1","g":"C","v":3.2,"j":0,"f":0},{"p":"ICAM-1","g":"C","v":3.12,"j":-1,"f":1},{"p":"ICAM-1","g":"C","v":3.1,"j":1,"f":1},{"p":"ICAM-1","g":"C","v":3.08,"j":-2,"f":1},{"p":"ICAM-1","g":"C","v":3.06,"j":2,"f":1},{"p":"ICAM-1","g":"C","v":3.04,"j":0,"f":1},{"p":"ICAM-1","g":"C","v":3.0,"j":-1,"f":1},{"p":"ICAM-1","g":"C","v":2.95,"j":1,"f":1},{"p":"ICAM-1","g":"C","v":2.8,"j":0,"f":0},{"p":"ICAM-1","g":"C","v":2.38,"j":-1,"f":1},{"p":"ICAM-1","g":"C","v":2.38,"j":1,"f":1},
{"p":"ICAM-1","g":"B","v":3.65,"j":0,"f":0},{"p":"ICAM-1","g":"B","v":3.6,"j":0,"f":0},{"p":"ICAM-1","g":"B","v":3.5,"j":0,"f":0},{"p":"ICAM-1","g":"B","v":3.45,"j":0,"f":0},{"p":"ICAM-1","g":"B","v":3.35,"j":0,"f":0},{"p":"ICAM-1","g":"B","v":3.22,"j":0,"f":1},{"p":"ICAM-1","g":"B","v":3.15,"j":0,"f":0},{"p":"ICAM-1","g":"B","v":3.1,"j":-2,"f":0},{"p":"ICAM-1","g":"B","v":3.1,"j":0,"f":0},{"p":"ICAM-1","g":"B","v":3.1,"j":2,"f":0},{"p":"ICAM-1","g":"B","v":3.06,"j":-1,"f":0},{"p":"ICAM-1","g":"B","v":2.38,"j":0,"f":0},
{"p":"ICAM-1","g":"1","v":3.78,"j":-1,"f":0},{"p":"ICAM-1","g":"1","v":3.76,"j":1,"f":0},{"p":"ICAM-1","g":"1","v":3.7,"j":0,"f":0},{"p":"ICAM-1","g":"1","v":3.66,"j":-1,"f":1},{"p":"ICAM-1","g":"1","v":3.6,"j":1,"f":0},{"p":"ICAM-1","g":"1","v":3.5,"j":0,"f":1},{"p":"ICAM-1","g":"1","v":3.42,"j":-1,"f":0},{"p":"ICAM-1","g":"1","v":3.38,"j":1,"f":0},{"p":"ICAM-1","g":"1","v":3.3,"j":0,"f":0},{"p":"ICAM-1","g":"1","v":3.09,"j":-2,"f":1},{"p":"ICAM-1","g":"1","v":3.08,"j":0,"f":1},{"p":"ICAM-1","g":"1","v":3.08,"j":2,"f":1},{"p":"ICAM-1","g":"1","v":3.09,"j":-1,"f":0},
{"p":"ICAM-1","g":"3","v":3.52,"j":-2,"f":0},{"p":"ICAM-1","g":"3","v":3.52,"j":1,"f":0},{"p":"ICAM-1","g":"3","v":3.3,"j":0,"f":0},{"p":"ICAM-1","g":"3","v":3.1,"j":-2,"f":0},{"p":"ICAM-1","g":"3","v":3.09,"j":0,"f":1},{"p":"ICAM-1","g":"3","v":3.08,"j":2,"f":0},{"p":"ICAM-1","g":"3","v":2.38,"j":-2,"f":0},{"p":"ICAM-1","g":"3","v":2.38,"j":0,"f":0},{"p":"ICAM-1","g":"3","v":2.38,"j":2,"f":0},
{"p":"ICAM-1","g":"6","v":3.55,"j":-1,"f":0},{"p":"ICAM-1","g":"6","v":3.54,"j":1,"f":0},{"p":"ICAM-1","g":"6","v":3.52,"j":2,"f":0},{"p":"ICAM-1","g":"6","v":3.3,"j":0,"f":0},{"p":"ICAM-1","g":"6","v":3.08,"j":0,"f":1},{"p":"ICAM-1","g":"6","v":2.38,"j":-3,"f":0},{"p":"ICAM-1","g":"6","v":2.38,"j":-1,"f":0},{"p":"ICAM-1","g":"6","v":2.38,"j":1,"f":0},{"p":"ICAM-1","g":"6","v":2.38,"j":3,"f":0},
{"p":"ICAM-1","g":"C","m":3.02,"lo":2.73,"hi":3.32},{"p":"ICAM-1","g":"B","m":3.17,"lo":2.9,"hi":3.45,"s":"*"},{"p":"ICAM-1","g":"1","m":3.38,"lo":3.08,"hi":3.78,"s":"****"},{"p":"ICAM-1","g":"3","m":3.04,"lo":2.58,"hi":3.51,"s":"ns"},{"p":"ICAM-1","g":"6","m":3.08,"lo":2.54,"hi":3.61,"s":"*"},

{"p":"TNF-α","g":"C","v":0.36,"j":-2,"f":1},{"p":"TNF-α","g":"C","v":0.35,"j":0,"f":1},{"p":"TNF-α","g":"C","v":0.35,"j":2,"f":1},{"p":"TNF-α","g":"C","v":0.34,"j":-1,"f":1},{"p":"TNF-α","g":"C","v":0.33,"j":1,"f":1},{"p":"TNF-α","g":"C","v":0.33,"j":-3,"f":1},{"p":"TNF-α","g":"C","v":0.32,"j":3,"f":1},{"p":"TNF-α","g":"C","v":0.31,"j":0,"f":1},{"p":"TNF-α","g":"C","v":0.3,"j":-2,"f":1},{"p":"TNF-α","g":"C","v":0.3,"j":2,"f":1},{"p":"TNF-α","g":"C","v":0.25,"j":0,"f":0},{"p":"TNF-α","g":"C","v":0.17,"j":0,"f":1},{"p":"TNF-α","g":"C","v":0.08,"j":0,"f":0},{"p":"TNF-α","g":"C","v":-0.05,"j":0,"f":0},{"p":"TNF-α","g":"C","v":-0.3,"j":0,"f":0},{"p":"TNF-α","g":"C","v":-0.47,"j":0,"f":1},
{"p":"TNF-α","g":"B","v":0.35,"j":-2,"f":0},{"p":"TNF-α","g":"B","v":0.35,"j":0,"f":0},{"p":"TNF-α","g":"B","v":0.34,"j":2,"f":0},{"p":"TNF-α","g":"B","v":0.33,"j":-1,"f":0},{"p":"TNF-α","g":"B","v":0.33,"j":1,"f":0},{"p":"TNF-α","g":"B","v":0.32,"j":3,"f":0},{"p":"TNF-α","g":"B","v":0.31,"j":-3,"f":0},{"p":"TNF-α","g":"B","v":0.15,"j":0,"f":0},{"p":"TNF-α","g":"B","v":0.0,"j":-1,"f":0},{"p":"TNF-α","g":"B","v":-0.01,"j":1,"f":0},{"p":"TNF-α","g":"B","v":-0.45,"j":0,"f":0},{"p":"TNF-α","g":"B","v":-0.6,"j":0,"f":0},
{"p":"TNF-α","g":"1","v":0.35,"j":-1,"f":1},{"p":"TNF-α","g":"1","v":0.35,"j":1,"f":1},{"p":"TNF-α","g":"1","v":0.34,"j":-2,"f":0},{"p":"TNF-α","g":"1","v":0.33,"j":2,"f":0},{"p":"TNF-α","g":"1","v":0.32,"j":0,"f":1},{"p":"TNF-α","g":"1","v":0.0,"j":-1,"f":0},{"p":"TNF-α","g":"1","v":0.0,"j":1,"f":1},{"p":"TNF-α","g":"1","v":-0.23,"j":0,"f":0},{"p":"TNF-α","g":"1","v":-0.4,"j":0,"f":0},{"p":"TNF-α","g":"1","v":-0.6,"j":0,"f":0},{"p":"TNF-α","g":"1","v":-0.68,"j":0,"f":0},
{"p":"TNF-α","g":"3","v":0.33,"j":-2,"f":1},{"p":"TNF-α","g":"3","v":0.33,"j":0,"f":1},{"p":"TNF-α","g":"3","v":0.32,"j":2,"f":1},{"p":"TNF-α","g":"3","v":0.32,"j":-1,"f":1},{"p":"TNF-α","g":"3","v":0.31,"j":1,"f":1},{"p":"TNF-α","g":"3","v":-0.43,"j":-1,"f":1},{"p":"TNF-α","g":"3","v":-0.44,"j":1,"f":0},{"p":"TNF-α","g":"3","v":-0.6,"j":0,"f":0},
{"p":"TNF-α","g":"6","v":0.35,"j":0,"f":0},{"p":"TNF-α","g":"6","v":0.34,"j":-2,"f":1},{"p":"TNF-α","g":"6","v":0.33,"j":2,"f":0},{"p":"TNF-α","g":"6","v":0.31,"j":-1,"f":1},{"p":"TNF-α","g":"6","v":0.29,"j":1,"f":0},{"p":"TNF-α","g":"6","v":0.0,"j":0,"f":0},{"p":"TNF-α","g":"6","v":-0.15,"j":0,"f":0},
{"p":"TNF-α","g":"C","m":0.17,"lo":-0.11,"hi":0.44},{"p":"TNF-α","g":"B","m":0.12,"lo":-0.18,"hi":0.42,"s":"ns"},{"p":"TNF-α","g":"1","m":0.0,"lo":-0.37,"hi":0.37,"s":"ns"},{"p":"TNF-α","g":"3","m":0.01,"lo":-0.43,"hi":0.44,"s":"ns"},{"p":"TNF-α","g":"6","m":0.24,"lo":0.05,"hi":0.42,"s":"ns"}
],
"hm": [
{"n":"VEGF","g":"C","lv":0.9},{"n":"VEGF","g":"B","lv":1.0},{"n":"VEGF","g":"1","lv":0.0},{"n":"VEGF","g":"3","lv":0.52},{"n":"VEGF","g":"6","lv":0.41},
{"n":"PlGF","g":"C","lv":0.0},{"n":"PlGF","g":"B","lv":0.5},{"n":"PlGF","g":"1","lv":1.0},{"n":"PlGF","g":"3","lv":0.7},{"n":"PlGF","g":"6","lv":0.88},
{"n":"Ang2","g":"C","lv":0.2},{"n":"Ang2","g":"B","lv":0.98},{"n":"Ang2","g":"1","lv":0.75},{"n":"Ang2","g":"3","lv":0.78},{"n":"Ang2","g":"6","lv":0.77},
{"n":"IL-6","g":"C","lv":0.1},{"n":"IL-6","g":"B","lv":0.5},{"n":"IL-6","g":"1","lv":0.77},{"n":"IL-6","g":"3","lv":0.57},{"n":"IL-6","g":"6","lv":1.0},
{"n":"IL-8","g":"C","lv":0.18},{"n":"IL-8","g":"B","lv":0.75},{"n":"IL-8","g":"1","lv":0.8},{"n":"IL-8","g":"3","lv":0.93},{"n":"IL-8","g":"6","lv":0.77},
{"n":"MCP1","g":"C","lv":0.1},{"n":"MCP1","g":"B","lv":0.68},{"n":"MCP1","g":"1","lv":0.65},{"n":"MCP1","g":"3","lv":0.73},{"n":"MCP1","g":"6","lv":0.73},
{"n":"ICAM1","g":"C","lv":0.1},{"n":"ICAM1","g":"B","lv":0.5},{"n":"ICAM1","g":"1","lv":0.93},{"n":"ICAM1","g":"3","lv":0.17},{"n":"ICAM1","g":"6","lv":0.32},
{"n":"TNF-α","g":"C","lv":0.77},{"n":"TNF-α","g":"B","lv":0.7},{"n":"TNF-α","g":"1","lv":0.05},{"n":"TNF-α","g":"3","lv":0.5},{"n":"TNF-α","g":"6","lv":1.0}
]
},
"concat": [
{"title":"VEGF","width":118,"height":198,"data":{"name":"d"},"transform":[{"filter":"datum.p=='VEGF'"}],
"layer":[
{"transform":[{"filter":"isValid(datum.v)&&datum.f==0"}],"mark":{"type":"point","shape":"circle","filled":false,"size":34,"strokeWidth":1.6,"opacity":1},"encoding":{"x":{"field":"g","type":"nominal","scale":{"type":"band","domain":["C","B","1","3","6"],"paddingInner":0,"paddingOuter":0.25},"title":null},"xOffset":{"field":"j","type":"quantitative","scale":{"domain":[-4.5,4.5]}},"y":{"field":"v","type":"quantitative","scale":{"domain":[-1,3],"nice":false,"zero":false},"axis":{"values":[-1,0,1,2,3],"format":"d","tickCount":10},"title":"Log concentration"},"color":{"field":"g","type":"nominal","scale":{"domain":["C","B","1","3","6"],"range":["#a8a8a8","#f8c08a","#1c1ced","#a32fe6","#f01e1e"]},"legend":null}}},
{"transform":[{"filter":"isValid(datum.v)&&datum.f==1"}],"mark":{"type":"circle","size":40,"opacity":1},"encoding":{"x":{"field":"g","type":"nominal","scale":{"type":"band","domain":["C","B","1","3","6"],"paddingInner":0,"paddingOuter":0.25},"title":null},"xOffset":{"field":"j","type":"quantitative","scale":{"domain":[-4.5,4.5]}},"y":{"field":"v","type":"quantitative","scale":{"domain":[-1,3],"nice":false,"zero":false},"title":"Log concentration"},"color":{"field":"g","type":"nominal","legend":null}}},
{"transform":[{"filter":"isValid(datum.m)"}],"mark":{"type":"rule","strokeWidth":1.5},"encoding":{"x":{"field":"g","type":"nominal","scale":{"type":"band","domain":["C","B","1","3","6"],"paddingInner":0,"paddingOuter":0.25},"title":null},"y":{"field":"lo","type":"quantitative","scale":{"domain":[-1,3],"nice":false,"zero":false},"title":"Log concentration"},"y2":{"field":"hi"},"color":{"field":"g","type":"nominal","legend":null}}},
{"transform":[{"filter":"isValid(datum.m)"}],"mark":{"type":"tick","size":10,"thickness":1.5},"encoding":{"x":{"field":"g","type":"nominal","scale":{"type":"band","domain":["C","B","1","3","6"],"paddingInner":0,"paddingOuter":0.25},"title":null},"y":{"field":"lo","type":"quantitative","scale":{"domain":[-1,3],"nice":false,"zero":false},"title":"Log concentration"},"color":{"field":"g","type":"nominal","legend":null}}},
{"transform":[{"filter":"isValid(datum.m)"}],"mark":{"type":"tick","size":10,"thickness":1.5},"encoding":{"x":{"field":"g","type":"nominal","scale":{"type":"band","domain":["C","B","1","3","6"],"paddingInner":0,"paddingOuter":0.25},"title":null},"y":{"field":"hi","type":"quantitative","scale":{"domain":[-1,3],"nice":false,"zero":false},"title":"Log concentration"},"color":{"field":"g","type":"nominal","legend":null}}},
{"transform":[{"filter":"isValid(datum.m)"}],"mark":{"type":"tick","size":22,"thickness":2.5,"color":"black"},"encoding":{"x":{"field":"g","type":"nominal","scale":{"type":"band","domain":["C","B","1","3","6"],"paddingInner":0,"paddingOuter":0.25},"title":null},"y":{"field":"m","type":"quantitative","scale":{"domain":[-1,3],"nice":false,"zero":false},"title":"Log concentration"}}},
{"transform":[{"joinaggregate":[{"op":"max","field":"v","as":"mx"},{"op":"max","field":"hi","as":"mh"}],"groupby":["g"]},{"filter":"isValid(datum.s)"},{"calculate":"max(datum.mx,datum.mh)","as":"top"}],"mark":{"type":"text","dy":-3,"fontSize":12,"color":"black"},"encoding":{"x":{"field":"g","type":"nominal","scale":{"type":"band","domain":["C","B","1","3","6"],"paddingInner":0,"paddingOuter":0.25},"title":null},"y":{"field":"top","type":"quantitative","scale":{"domain":[-1,3],"nice":false,"zero":false},"title":"Log concentration"},"text":{"field":"s"}}}
]},
{"title":"PlGF","width":118,"height":198,"data":{"name":"d"},"transform":[{"filter":"datum.p=='PlGF'"}],
"layer":[
{"data":{"values":[{}]},"mark":{"type":"rule","strokeDash":[2,4],"strokeWidth":2,"color":"black"},"encoding":{"y":{"datum":0,"type":"quantitative","scale":{"domain":[-3,2],"nice":false,"zero":false},"axis":{"values":[-3,-2,-1,0,1,2],"format":"d","tickCount":10},"title":"Log concentration"}}},
{"transform":[{"filter":"isValid(datum.v)&&datum.f==0"}],"mark":{"type":"point","shape":"circle","filled":false,"size":34,"strokeWidth":1.6,"opacity":1},"encoding":{"x":{"field":"g","type":"nominal","scale":{"type":"band","domain":["C","B","1","3","6"],"paddingInner":0,"paddingOuter":0.25},"title":null},"xOffset":{"field":"j","type":"quantitative","scale":{"domain":[-4.5,4.5]}},"y":{"field":"v","type":"quantitative","scale":{"domain":[-3,2],"nice":false,"zero":false},"axis":{"values":[-3,-2,-1,0,1,2],"format":"d","tickCount":10},"title":"Log concentration"},"color":{"field":"g","type":"nominal","legend":null}}},
{"transform":[{"filter":"isValid(datum.v)&&datum.f==1"}],"mark":{"type":"circle","size":40,"opacity":1},"encoding":{"x":{"field":"g","type":"nominal","scale":{"type":"band","domain":["C","B","1","3","6"],"paddingInner":0,"paddingOuter":0.25},"title":null},"xOffset":{"field":"j","type":"quantitative","scale":{"domain":[-4.5,4.5]}},"y":{"field":"v","type":"quantitative","scale":{"domain":[-3,2],"nice":false,"zero":false},"title":"Log concentration"},"color":{"field":"g","type":"nominal","legend":null}}},
{"transform":[{"filter":"isValid(datum.m)"}],"mark":{"type":"rule","strokeWidth":1.5},"encoding":{"x":{"field":"g","type":"nominal","scale":{"type":"band","domain":["C","B","1","3","6"],"paddingInner":0,"paddingOuter":0.25},"title":null},"y":{"field":"lo","type":"quantitative","scale":{"domain":[-3,2],"nice":false,"zero":false},"title":"Log concentration"},"y2":{"field":"hi"},"color":{"field":"g","type":"nominal","legend":null}}},
{"transform":[{"filter":"isValid(datum.m)"}],"mark":{"type":"tick","size":10,"thickness":1.5},"encoding":{"x":{"field":"g","type":"nominal","scale":{"type":"band","domain":["C","B","1","3","6"],"paddingInner":0,"paddingOuter":0.25},"title":null},"y":{"field":"lo","type":"quantitative","scale":{"domain":[-3,2],"nice":false,"zero":false},"title":"Log concentration"},"color":{"field":"g","type":"nominal","legend":null}}},
{"transform":[{"filter":"isValid(datum.m)"}],"mark":{"type":"tick","size":10,"thickness":1.5},"encoding":{"x":{"field":"g","type":"nominal","scale":{"type":"band","domain":["C","B","1","3","6"],"paddingInner":0,"paddingOuter":0.25},"title":null},"y":{"field":"hi","type":"quantitative","scale":{"domain":[-3,2],"nice":false,"zero":false},"title":"Log concentration"},"color":{"field":"g","type":"nominal","legend":null}}},
{"transform":[{"filter":"isValid(datum.m)"}],"mark":{"type":"tick","size":22,"thickness":2.5,"color":"black"},"encoding":{"x":{"field":"g","type":"nominal","scale":{"type":"band","domain":["C","B","1","3","6"],"paddingInner":0,"paddingOuter":0.25},"title":null},"y":{"field":"m","type":"quantitative","scale":{"domain":[-3,2],"nice":false,"zero":false},"title":"Log concentration"}}},
{"transform":[{"joinaggregate":[{"op":"max","field":"v","as":"mx"},{"op":"max","field":"hi","as":"mh"}],"groupby":["g"]},{"filter":"isValid(datum.s)"},{"calculate":"max(datum.mx,datum.mh)","as":"top"}],"mark":{"type":"text","dy":-3,"fontSize":12,"color":"black"},"encoding":{"x":{"field":"g","type":"nominal","scale":{"type":"band","domain":["C","B","1","3","6"],"paddingInner":0,"paddingOuter":0.25},"title":null},"y":{"field":"top","type":"quantitative","scale":{"domain":[-3,2],"nice":false,"zero":false},"title":"Log concentration"},"text":{"field":"s"}}}
]},
{"title":"Ang-2","width":118,"height":198,"data":{"name":"d"},"transform":[{"filter":"datum.p=='Ang-2'"}],
"layer":[
{"transform":[{"filter":"isValid(datum.v)&&datum.f==0"}],"mark":{"type":"point","shape":"circle","filled":false,"size":34,"strokeWidth":1.6,"opacity":1},"encoding":{"x":{"field":"g","type":"nominal","scale":{"type":"band","domain":["C","B","1","3","6"],"paddingInner":0,"paddingOuter":0.25},"title":null},"xOffset":{"field":"j","type":"quantitative","scale":{"domain":[-4.5,4.5]}},"y":{"field":"v","type":"quantitative","scale":{"domain":[0,2.5],"nice":false,"zero":false},"axis":{"values":[0,0.5,1,1.5,2,2.5],"format":".1f","tickCount":10},"title":"Log concentration"},"color":{"field":"g","type":"nominal","legend":null}}},
{"transform":[{"filter":"isValid(datum.v)&&datum.f==1"}],"mark":{"type":"circle","size":40,"opacity":1},"encoding":{"x":{"field":"g","type":"nominal","scale":{"type":"band","domain":["C","B","1","3","6"],"paddingInner":0,"paddingOuter":0.25},"title":null},"xOffset":{"field":"j","type":"quantitative","scale":{"domain":[-4.5,4.5]}},"y":{"field":"v","type":"quantitative","scale":{"domain":[0,2.5],"nice":false,"zero":false},"title":"Log concentration"},"color":{"field":"g","type":"nominal","legend":null}}},
{"transform":[{"filter":"isValid(datum.m)"}],"mark":{"type":"rule","strokeWidth":1.5},"encoding":{"x":{"field":"g","type":"nominal","scale":{"type":"band","domain":["C","B","1","3","6"],"paddingInner":0,"paddingOuter":0.25},"title":null},"y":{"field":"lo","type":"quantitative","scale":{"domain":[0,2.5],"nice":false,"zero":false},"title":"Log concentration"},"y2":{"field":"hi"},"color":{"field":"g","type":"nominal","legend":null}}},
{"transform":[{"filter":"isValid(datum.m)"}],"mark":{"type":"tick","size":10,"thickness":1.5},"encoding":{"x":{"field":"g","type":"nominal","scale":{"type":"band","domain":["C","B","1","3","6"],"paddingInner":0,"paddingOuter":0.25},"title":null},"y":{"field":"lo","type":"quantitative","scale":{"domain":[0,2.5],"nice":false,"zero":false},"title":"Log concentration"},"color":{"field":"g","type":"nominal","legend":null}}},
{"transform":[{"filter":"isValid(datum.m)"}],"mark":{"type":"tick","size":10,"thickness":1.5},"encoding":{"x":{"field":"g","type":"nominal","scale":{"type":"band","domain":["C","B","1","3","6"],"paddingInner":0,"paddingOuter":0.25},"title":null},"y":{"field":"hi","type":"quantitative","scale":{"domain":[0,2.5],"nice":false,"zero":false},"title":"Log concentration"},"color":{"field":"g","type":"nominal","legend":null}}},
{"transform":[{"filter":"isValid(datum.m)"}],"mark":{"type":"tick","size":22,"thickness":2.5,"color":"black"},"encoding":{"x":{"field":"g","type":"nominal","scale":{"type":"band","domain":["C","B","1","3","6"],"paddingInner":0,"paddingOuter":0.25},"title":null},"y":{"field":"m","type":"quantitative","scale":{"domain":[0,2.5],"nice":false,"zero":false},"title":"Log concentration"}}},
{"transform":[{"joinaggregate":[{"op":"max","field":"v","as":"mx"},{"op":"max","field":"hi","as":"mh"}],"groupby":["g"]},{"filter":"isValid(datum.s)"},{"calculate":"max(datum.mx,datum.mh)","as":"top"}],"mark":{"type":"text","dy":-3,"fontSize":12,"color":"black"},"encoding":{"x":{"field":"g","type":"nominal","scale":{"type":"band","domain":["C","B","1","3","6"],"paddingInner":0,"paddingOuter":0.25},"title":null},"y":{"field":"top","type":"quantitative","scale":{"domain":[0,2.5],"nice":false,"zero":false},"title":"Log concentration"},"text":{"field":"s"}}}
]},
{"title":"IL-6","width":118,"height":198,"data":{"name":"d"},"transform":[{"filter":"datum.p=='IL-6'"}],
"layer":[
{"data":{"values":[{}]},"mark":{"type":"rule","strokeDash":[2,4],"strokeWidth":2,"color":"black"},"encoding":{"y":{"datum":0,"type":"quantitative","scale":{"domain":[-1,3],"nice":false,"zero":false},"axis":{"values":[-1,0,1,2,3],"format":"d","tickCount":10},"title":"Log concentration"}}},
{"transform":[{"filter":"isValid(datum.v)&&datum.f==0"}],"mark":{"type":"point","shape":"circle","filled":false,"size":34,"strokeWidth":1.6,"opacity":1},"encoding":{"x":{"field":"g","type":"nominal","scale":{"type":"band","domain":["C","B","1","3","6"],"paddingInner":0,"paddingOuter":0.25},"title":null},"xOffset":{"field":"j","type":"quantitative","scale":{"domain":[-4.5,4.5]}},"y":{"field":"v","type":"quantitative","scale":{"domain":[-1,3],"nice":false,"zero":false},"axis":{"values":[-1,0,1,2,3],"format":"d","tickCount":10},"title":"Log concentration"},"color":{"field":"g","type":"nominal","legend":null}}},
{"transform":[{"filter":"isValid(datum.v)&&datum.f==1"}],"mark":{"type":"circle","size":40,"opacity":1},"encoding":{"x":{"field":"g","type":"nominal","scale":{"type":"band","domain":["C","B","1","3","6"],"paddingInner":0,"paddingOuter":0.25},"title":null},"xOffset":{"field":"j","type":"quantitative","scale":{"domain":[-4.5,4.5]}},"y":{"field":"v","type":"quantitative","scale":{"domain":[-1,3],"nice":false,"zero":false},"title":"Log concentration"},"color":{"field":"g","type":"nominal","legend":null}}},
{"transform":[{"filter":"isValid(datum.m)"}],"mark":{"type":"rule","strokeWidth":1.5},"encoding":{"x":{"field":"g","type":"nominal","scale":{"type":"band","domain":["C","B","1","3","6"],"paddingInner":0,"paddingOuter":0.25},"title":null},"y":{"field":"lo","type":"quantitative","scale":{"domain":[-1,3],"nice":false,"zero":false},"title":"Log concentration"},"y2":{"field":"hi"},"color":{"field":"g","type":"nominal","legend":null}}},
{"transform":[{"filter":"isValid(datum.m)"}],"mark":{"type":"tick","size":10,"thickness":1.5},"encoding":{"x":{"field":"g","type":"nominal","scale":{"type":"band","domain":["C","B","1","3","6"],"paddingInner":0,"paddingOuter":0.25},"title":null},"y":{"field":"lo","type":"quantitative","scale":{"domain":[-1,3],"nice":false,"zero":false},"title":"Log concentration"},"color":{"field":"g","type":"nominal","legend":null}}},
{"transform":[{"filter":"isValid(datum.m)"}],"mark":{"type":"tick","size":10,"thickness":1.5},"encoding":{"x":{"field":"g","type":"nominal","scale":{"type":"band","domain":["C","B","1","3","6"],"paddingInner":0,"paddingOuter":0.25},"title":null},"y":{"field":"hi","type":"quantitative","scale":{"domain":[-1,3],"nice":false,"zero":false},"title":"Log concentration"},"color":{"field":"g","type":"nominal","legend":null}}},
{"transform":[{"filter":"isValid(datum.m)"}],"mark":{"type":"tick","size":22,"thickness":2.5,"color":"black"},"encoding":{"x":{"field":"g","type":"nominal","scale":{"type":"band","domain":["C","B","1","3","6"],"paddingInner":0,"paddingOuter":0.25},"title":null},"y":{"field":"m","type":"quantitative","scale":{"domain":[-1,3],"nice":false,"zero":false},"title":"Log concentration"}}},
{"transform":[{"joinaggregate":[{"op":"max","field":"v","as":"mx"},{"op":"max","field":"hi","as":"mh"}],"groupby":["g"]},{"filter":"isValid(datum.s)"},{"calculate":"max(datum.mx,datum.mh)","as":"top"}],"mark":{"type":"text","dy":-3,"fontSize":12,"color":"black"},"encoding":{"x":{"field":"g","type":"nominal","scale":{"type":"band","domain":["C","B","1","3","6"],"paddingInner":0,"paddingOuter":0.25},"title":null},"y":{"field":"top","type":"quantitative","scale":{"domain":[-1,3],"nice":false,"zero":false},"title":"Log concentration"},"text":{"field":"s"}}}
]},
{"width":122,"height":27,"data":{"name":"hm"},"transform":[{"filter":"datum.n=='VEGF'"}],"mark":{"type":"rect","stroke":"#ffffff","strokeWidth":1,"strokeOpacity":0.5},"encoding":{"x":{"field":"g","type":"nominal","scale":{"domain":["C","B","1","3","6"],"paddingInner":0.05,"paddingOuter":0},"axis":null},"y":{"field":"n","type":"nominal","title":null},"fill":{"field":"lv","type":"quantitative","scale":{"domain":[0,0.5,0.75,1],"range":["#0b6cb0","#f8b8c4","#e35454","#c8102e"],"interpolate":"rgb"},"legend":{"title":null,"values":[-0.32,1.265],"labelExpr":"datum.value > 0.5 ? 'Max.' : 'Min.'","orient":"none","legendX":682,"legendY":288,"direction":"vertical","gradientLength":68,"gradientThickness":13,"gradientStrokeWidth":0,"labelOffset":-24,"labelOverlap":false,"labelFontSize":15,"labelFontWeight":"bold","labelFontStyle":"italic","labelColor":"black"}}}},
{"width":122,"height":27,"data":{"name":"hm"},"transform":[{"filter":"datum.n=='PlGF'"}],"mark":{"type":"rect","stroke":"#ffffff","strokeWidth":1,"strokeOpacity":0.5},"encoding":{"x":{"field":"g","type":"nominal","scale":{"domain":["C","B","1","3","6"],"paddingInner":0.05,"paddingOuter":0},"axis":null},"y":{"field":"n","type":"nominal","title":null},"fill":{"field":"lv","type":"quantitative","scale":{"domain":[0,0.5,0.75,1],"range":["#0b6cb0","#f8b8c4","#e35454","#c8102e"],"interpolate":"rgb"},"legend":{"title":null,"values":[-0.32,1.265],"labelExpr":"datum.value > 0.5 ? 'Max.' : 'Min.'","orient":"none","legendX":682,"legendY":288,"direction":"vertical","gradientLength":68,"gradientThickness":13,"gradientStrokeWidth":0,"labelOffset":-24,"labelOverlap":false,"labelFontSize":15,"labelFontWeight":"bold","labelFontStyle":"italic","labelColor":"black"}}}},
{"width":122,"height":27,"data":{"name":"hm"},"transform":[{"filter":"datum.n=='Ang2'"}],"mark":{"type":"rect","stroke":"#ffffff","strokeWidth":1,"strokeOpacity":0.5},"encoding":{"x":{"field":"g","type":"nominal","scale":{"domain":["C","B","1","3","6"],"paddingInner":0.05,"paddingOuter":0},"axis":null},"y":{"field":"n","type":"nominal","title":null},"fill":{"field":"lv","type":"quantitative","scale":{"domain":[0,0.5,0.75,1],"range":["#0b6cb0","#f8b8c4","#e35454","#c8102e"],"interpolate":"rgb"},"legend":{"title":null,"values":[-0.32,1.265],"labelExpr":"datum.value > 0.5 ? 'Max.' : 'Min.'","orient":"none","legendX":682,"legendY":288,"direction":"vertical","gradientLength":68,"gradientThickness":13,"gradientStrokeWidth":0,"labelOffset":-24,"labelOverlap":false,"labelFontSize":15,"labelFontWeight":"bold","labelFontStyle":"italic","labelColor":"black"}}}},
{"width":122,"height":27,"data":{"name":"hm"},"transform":[{"filter":"datum.n=='IL-6'"}],
"layer":[
{"mark":{"type":"rect","stroke":"#ffffff","strokeWidth":1,"strokeOpacity":0.5},"encoding":{"x":{"field":"g","type":"nominal","scale":{"domain":["C","B","1","3","6"],"paddingInner":0.05,"paddingOuter":0},"axis":null},"y":{"field":"n","type":"nominal","title":null},"fill":{"field":"lv","type":"quantitative","scale":{"domain":[0,0.5,0.75,1],"range":["#0b6cb0","#f8b8c4","#e35454","#c8102e"],"interpolate":"rgb"},"legend":{"title":null,"values":[-0.32,1.265],"labelExpr":"datum.value > 0.5 ? 'Max.' : 'Min.'","orient":"none","legendX":682,"legendY":288,"direction":"vertical","gradientLength":68,"gradientThickness":13,"gradientStrokeWidth":0,"labelOffset":-24,"labelOverlap":false,"labelFontSize":15,"labelFontWeight":"bold","labelFontStyle":"italic","labelColor":"black"}}}},
{"mark":{"type":"rect","opacity":0},"encoding":{"x":{"field":"g","type":"nominal","scale":{"domain":["C","B","1","3","6"],"paddingInner":0.05,"paddingOuter":0},"axis":null},"y":{"field":"n","type":"nominal","axis":{"orient":"right","labels":false,"ticks":false,"domain":false,"title":"Average cytokine level","titleAngle":90,"titleX":41,"titleY":56,"titleAlign":"center","titleBaseline":"middle","titleFontSize":13,"titleFontWeight":"normal","titleColor":"black"}}}}
],
"resolve":{"axis":{"y":"independent"}}},
{"title":"IL-8","width":118,"height":198,"data":{"name":"d"},"transform":[{"filter":"datum.p=='IL-8'"}],
"layer":[
{"data":{"values":[{}]},"mark":{"type":"rule","strokeDash":[2,4],"strokeWidth":2,"color":"black"},"encoding":{"y":{"datum":0,"type":"quantitative","scale":{"domain":[0,2.5],"nice":false,"zero":false},"axis":{"values":[0,0.5,1,1.5,2,2.5],"format":".1f","tickCount":10},"title":"Log concentration"}}},
{"transform":[{"filter":"isValid(datum.v)&&datum.f==0"}],"mark":{"type":"point","shape":"circle","filled":false,"size":34,"strokeWidth":1.6,"opacity":1},"encoding":{"x":{"field":"g","type":"nominal","scale":{"type":"band","domain":["C","B","1","3","6"],"paddingInner":0,"paddingOuter":0.25},"title":null},"xOffset":{"field":"j","type":"quantitative","scale":{"domain":[-4.5,4.5]}},"y":{"field":"v","type":"quantitative","scale":{"domain":[0,2.5],"nice":false,"zero":false},"axis":{"values":[0,0.5,1,1.5,2,2.5],"format":".1f","tickCount":10},"title":"Log concentration"},"color":{"field":"g","type":"nominal","legend":null}}},
{"transform":[{"filter":"isValid(datum.v)&&datum.f==1"}],"mark":{"type":"circle","size":40,"opacity":1},"encoding":{"x":{"field":"g","type":"nominal","scale":{"type":"band","domain":["C","B","1","3","6"],"paddingInner":0,"paddingOuter":0.25},"title":null},"xOffset":{"field":"j","type":"quantitative","scale":{"domain":[-4.5,4.5]}},"y":{"field":"v","type":"quantitative","scale":{"domain":[0,2.5],"nice":false,"zero":false},"title":"Log concentration"},"color":{"field":"g","type":"nominal","legend":null}}},
{"transform":[{"filter":"isValid(datum.m)"}],"mark":{"type":"rule","strokeWidth":1.5},"encoding":{"x":{"field":"g","type":"nominal","scale":{"type":"band","domain":["C","B","1","3","6"],"paddingInner":0,"paddingOuter":0.25},"title":null},"y":{"field":"lo","type":"quantitative","scale":{"domain":[0,2.5],"nice":false,"zero":false},"title":"Log concentration"},"y2":{"field":"hi"},"color":{"field":"g","type":"nominal","legend":null}}},
{"transform":[{"filter":"isValid(datum.m)"}],"mark":{"type":"tick","size":10,"thickness":1.5},"encoding":{"x":{"field":"g","type":"nominal","scale":{"type":"band","domain":["C","B","1","3","6"],"paddingInner":0,"paddingOuter":0.25},"title":null},"y":{"field":"lo","type":"quantitative","scale":{"domain":[0,2.5],"nice":false,"zero":false},"title":"Log concentration"},"color":{"field":"g","type":"nominal","legend":null}}},
{"transform":[{"filter":"isValid(datum.m)"}],"mark":{"type":"tick","size":10,"thickness":1.5},"encoding":{"x":{"field":"g","type":"nominal","scale":{"type":"band","domain":["C","B","1","3","6"],"paddingInner":0,"paddingOuter":0.25},"title":null},"y":{"field":"hi","type":"quantitative","scale":{"domain":[0,2.5],"nice":false,"zero":false},"title":"Log concentration"},"color":{"field":"g","type":"nominal","legend":null}}},
{"transform":[{"filter":"isValid(datum.m)"}],"mark":{"type":"tick","size":22,"thickness":2.5,"color":"black"},"encoding":{"x":{"field":"g","type":"nominal","scale":{"type":"band","domain":["C","B","1","3","6"],"paddingInner":0,"paddingOuter":0.25},"title":null},"y":{"field":"m","type":"quantitative","scale":{"domain":[0,2.5],"nice":false,"zero":false},"title":"Log concentration"}}},
{"transform":[{"joinaggregate":[{"op":"max","field":"v","as":"mx"},{"op":"max","field":"hi","as":"mh"}],"groupby":["g"]},{"filter":"isValid(datum.s)"},{"calculate":"max(datum.mx,datum.mh)","as":"top"}],"mark":{"type":"text","dy":-3,"fontSize":12,"color":"black"},"encoding":{"x":{"field":"g","type":"nominal","scale":{"type":"band","domain":["C","B","1","3","6"],"paddingInner":0,"paddingOuter":0.25},"title":null},"y":{"field":"top","type":"quantitative","scale":{"domain":[0,2.5],"nice":false,"zero":false},"title":"Log concentration"},"text":{"field":"s"}}}
]},
{"title":"MCP-1","width":118,"height":198,"data":{"name":"d"},"transform":[{"filter":"datum.p=='MCP-1'"}],
"layer":[
{"transform":[{"filter":"isValid(datum.v)&&datum.f==0"}],"mark":{"type":"point","shape":"circle","filled":false,"size":34,"strokeWidth":1.6,"opacity":1},"encoding":{"x":{"field":"g","type":"nominal","scale":{"type":"band","domain":["C","B","1","3","6"],"paddingInner":0,"paddingOuter":0.25},"title":null},"xOffset":{"field":"j","type":"quantitative","scale":{"domain":[-4.5,4.5]}},"y":{"field":"v","type":"quantitative","scale":{"domain":[2,4],"nice":false,"zero":false},"axis":{"values":[2,2.5,3,3.5,4],"format":".1f","tickCount":10},"title":"Log concentration"},"color":{"field":"g","type":"nominal","legend":null}}},
{"transform":[{"filter":"isValid(datum.v)&&datum.f==1"}],"mark":{"type":"circle","size":40,"opacity":1},"encoding":{"x":{"field":"g","type":"nominal","scale":{"type":"band","domain":["C","B","1","3","6"],"paddingInner":0,"paddingOuter":0.25},"title":null},"xOffset":{"field":"j","type":"quantitative","scale":{"domain":[-4.5,4.5]}},"y":{"field":"v","type":"quantitative","scale":{"domain":[2,4],"nice":false,"zero":false},"title":"Log concentration"},"color":{"field":"g","type":"nominal","legend":null}}},
{"transform":[{"filter":"isValid(datum.m)"}],"mark":{"type":"rule","strokeWidth":1.5},"encoding":{"x":{"field":"g","type":"nominal","scale":{"type":"band","domain":["C","B","1","3","6"],"paddingInner":0,"paddingOuter":0.25},"title":null},"y":{"field":"lo","type":"quantitative","scale":{"domain":[2,4],"nice":false,"zero":false},"title":"Log concentration"},"y2":{"field":"hi"},"color":{"field":"g","type":"nominal","legend":null}}},
{"transform":[{"filter":"isValid(datum.m)"}],"mark":{"type":"tick","size":10,"thickness":1.5},"encoding":{"x":{"field":"g","type":"nominal","scale":{"type":"band","domain":["C","B","1","3","6"],"paddingInner":0,"paddingOuter":0.25},"title":null},"y":{"field":"lo","type":"quantitative","scale":{"domain":[2,4],"nice":false,"zero":false},"title":"Log concentration"},"color":{"field":"g","type":"nominal","legend":null}}},
{"transform":[{"filter":"isValid(datum.m)"}],"mark":{"type":"tick","size":10,"thickness":1.5},"encoding":{"x":{"field":"g","type":"nominal","scale":{"type":"band","domain":["C","B","1","3","6"],"paddingInner":0,"paddingOuter":0.25},"title":null},"y":{"field":"hi","type":"quantitative","scale":{"domain":[2,4],"nice":false,"zero":false},"title":"Log concentration"},"color":{"field":"g","type":"nominal","legend":null}}},
{"transform":[{"filter":"isValid(datum.m)"}],"mark":{"type":"tick","size":22,"thickness":2.5,"color":"black"},"encoding":{"x":{"field":"g","type":"nominal","scale":{"type":"band","domain":["C","B","1","3","6"],"paddingInner":0,"paddingOuter":0.25},"title":null},"y":{"field":"m","type":"quantitative","scale":{"domain":[2,4],"nice":false,"zero":false},"title":"Log concentration"}}},
{"transform":[{"joinaggregate":[{"op":"max","field":"v","as":"mx"},{"op":"max","field":"hi","as":"mh"}],"groupby":["g"]},{"filter":"isValid(datum.s)"},{"calculate":"max(datum.mx,datum.mh)","as":"top"}],"mark":{"type":"text","dy":-3,"fontSize":12,"color":"black"},"encoding":{"x":{"field":"g","type":"nominal","scale":{"type":"band","domain":["C","B","1","3","6"],"paddingInner":0,"paddingOuter":0.25},"title":null},"y":{"field":"top","type":"quantitative","scale":{"domain":[2,4],"nice":false,"zero":false},"title":"Log concentration"},"text":{"field":"s"}}}
]},
{"title":"ICAM-1","width":118,"height":198,"data":{"name":"d"},"transform":[{"filter":"datum.p=='ICAM-1'"}],
"layer":[
{"transform":[{"filter":"isValid(datum.v)&&datum.f==0"}],"mark":{"type":"point","shape":"circle","filled":false,"size":34,"strokeWidth":1.6,"opacity":1},"encoding":{"x":{"field":"g","type":"nominal","scale":{"type":"band","domain":["C","B","1","3","6"],"paddingInner":0,"paddingOuter":0.25},"title":null},"xOffset":{"field":"j","type":"quantitative","scale":{"domain":[-4.5,4.5]}},"y":{"field":"v","type":"quantitative","scale":{"domain":[2,4.5],"nice":false,"zero":false},"axis":{"values":[2,2.5,3,3.5,4,4.5],"format":".1f","tickCount":10},"title":"Log concentration"},"color":{"field":"g","type":"nominal","legend":null}}},
{"transform":[{"filter":"isValid(datum.v)&&datum.f==1"}],"mark":{"type":"circle","size":40,"opacity":1},"encoding":{"x":{"field":"g","type":"nominal","scale":{"type":"band","domain":["C","B","1","3","6"],"paddingInner":0,"paddingOuter":0.25},"title":null},"xOffset":{"field":"j","type":"quantitative","scale":{"domain":[-4.5,4.5]}},"y":{"field":"v","type":"quantitative","scale":{"domain":[2,4.5],"nice":false,"zero":false},"title":"Log concentration"},"color":{"field":"g","type":"nominal","legend":null}}},
{"transform":[{"filter":"isValid(datum.m)"}],"mark":{"type":"rule","strokeWidth":1.5},"encoding":{"x":{"field":"g","type":"nominal","scale":{"type":"band","domain":["C","B","1","3","6"],"paddingInner":0,"paddingOuter":0.25},"title":null},"y":{"field":"lo","type":"quantitative","scale":{"domain":[2,4.5],"nice":false,"zero":false},"title":"Log concentration"},"y2":{"field":"hi"},"color":{"field":"g","type":"nominal","legend":null}}},
{"transform":[{"filter":"isValid(datum.m)"}],"mark":{"type":"tick","size":10,"thickness":1.5},"encoding":{"x":{"field":"g","type":"nominal","scale":{"type":"band","domain":["C","B","1","3","6"],"paddingInner":0,"paddingOuter":0.25},"title":null},"y":{"field":"lo","type":"quantitative","scale":{"domain":[2,4.5],"nice":false,"zero":false},"title":"Log concentration"},"color":{"field":"g","type":"nominal","legend":null}}},
{"transform":[{"filter":"isValid(datum.m)"}],"mark":{"type":"tick","size":10,"thickness":1.5},"encoding":{"x":{"field":"g","type":"nominal","scale":{"type":"band","domain":["C","B","1","3","6"],"paddingInner":0,"paddingOuter":0.25},"title":null},"y":{"field":"hi","type":"quantitative","scale":{"domain":[2,4.5],"nice":false,"zero":false},"title":"Log concentration"},"color":{"field":"g","type":"nominal","legend":null}}},
{"transform":[{"filter":"isValid(datum.m)"}],"mark":{"type":"tick","size":22,"thickness":2.5,"color":"black"},"encoding":{"x":{"field":"g","type":"nominal","scale":{"type":"band","domain":["C","B","1","3","6"],"paddingInner":0,"paddingOuter":0.25},"title":null},"y":{"field":"m","type":"quantitative","scale":{"domain":[2,4.5],"nice":false,"zero":false},"title":"Log concentration"}}},
{"transform":[{"joinaggregate":[{"op":"max","field":"v","as":"mx"},{"op":"max","field":"hi","as":"mh"}],"groupby":["g"]},{"filter":"isValid(datum.s)"},{"calculate":"max(datum.mx,datum.mh)","as":"top"}],"mark":{"type":"text","dy":-3,"fontSize":12,"color":"black"},"encoding":{"x":{"field":"g","type":"nominal","scale":{"type":"band","domain":["C","B","1","3","6"],"paddingInner":0,"paddingOuter":0.25},"title":null},"y":{"field":"top","type":"quantitative","scale":{"domain":[2,4.5],"nice":false,"zero":false},"title":"Log concentration"},"text":{"field":"s"}}}
]},
{"title":"TNF-α","width":118,"height":198,"data":{"name":"d"},"transform":[{"filter":"datum.p=='TNF-α'"}],
"layer":[
{"transform":[{"filter":"isValid(datum.v)&&datum.f==0"}],"mark":{"type":"point","shape":"circle","filled":false,"size":34,"strokeWidth":1.6,"opacity":1},"encoding":{"x":{"field":"g","type":"nominal","scale":{"type":"band","domain":["C","B","1","3","6"],"paddingInner":0,"paddingOuter":0.25},"title":null},"xOffset":{"field":"j","type":"quantitative","scale":{"domain":[-4.5,4.5]}},"y":{"field":"v","type":"quantitative","scale":{"domain":[-1,0.5],"nice":false,"zero":false},"axis":{"values":[-1,-0.5,0,0.5],"format":".1f","tickCount":10},"title":"Log concentration"},"color":{"field":"g","type":"nominal","legend":null}}},
{"transform":[{"filter":"isValid(datum.v)&&datum.f==1"}],"mark":{"type":"circle","size":40,"opacity":1},"encoding":{"x":{"field":"g","type":"nominal","scale":{"type":"band","domain":["C","B","1","3","6"],"paddingInner":0,"paddingOuter":0.25},"title":null},"xOffset":{"field":"j","type":"quantitative","scale":{"domain":[-4.5,4.5]}},"y":{"field":"v","type":"quantitative","scale":{"domain":[-1,0.5],"nice":false,"zero":false},"title":"Log concentration"},"color":{"field":"g","type":"nominal","legend":null}}},
{"transform":[{"filter":"isValid(datum.m)"}],"mark":{"type":"rule","strokeWidth":1.5},"encoding":{"x":{"field":"g","type":"nominal","scale":{"type":"band","domain":["C","B","1","3","6"],"paddingInner":0,"paddingOuter":0.25},"title":null},"y":{"field":"lo","type":"quantitative","scale":{"domain":[-1,0.5],"nice":false,"zero":false},"title":"Log concentration"},"y2":{"field":"hi"},"color":{"field":"g","type":"nominal","legend":null}}},
{"transform":[{"filter":"isValid(datum.m)"}],"mark":{"type":"tick","size":10,"thickness":1.5},"encoding":{"x":{"field":"g","type":"nominal","scale":{"type":"band","domain":["C","B","1","3","6"],"paddingInner":0,"paddingOuter":0.25},"title":null},"y":{"field":"lo","type":"quantitative","scale":{"domain":[-1,0.5],"nice":false,"zero":false},"title":"Log concentration"},"color":{"field":"g","type":"nominal","legend":null}}},
{"transform":[{"filter":"isValid(datum.m)"}],"mark":{"type":"tick","size":10,"thickness":1.5},"encoding":{"x":{"field":"g","type":"nominal","scale":{"type":"band","domain":["C","B","1","3","6"],"paddingInner":0,"paddingOuter":0.25},"title":null},"y":{"field":"hi","type":"quantitative","scale":{"domain":[-1,0.5],"nice":false,"zero":false},"title":"Log concentration"},"color":{"field":"g","type":"nominal","legend":null}}},
{"transform":[{"filter":"isValid(datum.m)"}],"mark":{"type":"tick","size":22,"thickness":2.5,"color":"black"},"encoding":{"x":{"field":"g","type":"nominal","scale":{"type":"band","domain":["C","B","1","3","6"],"paddingInner":0,"paddingOuter":0.25},"title":null},"y":{"field":"m","type":"quantitative","scale":{"domain":[-1,0.5],"nice":false,"zero":false},"title":"Log concentration"}}},
{"transform":[{"joinaggregate":[{"op":"max","field":"v","as":"mx"},{"op":"max","field":"hi","as":"mh"}],"groupby":["g"]},{"filter":"isValid(datum.s)"},{"calculate":"max(datum.mx,datum.mh)","as":"top"}],"mark":{"type":"text","dy":-3,"fontSize":12,"color":"black"},"encoding":{"x":{"field":"g","type":"nominal","scale":{"type":"band","domain":["C","B","1","3","6"],"paddingInner":0,"paddingOuter":0.25},"title":null},"y":{"field":"top","type":"quantitative","scale":{"domain":[-1,0.5],"nice":false,"zero":false},"title":"Log concentration"},"text":{"field":"s"}}}
]},
{"width":122,"height":27,"data":{"name":"hm"},"transform":[{"filter":"datum.n=='IL-8'"}],"mark":{"type":"rect","stroke":"#ffffff","strokeWidth":1,"strokeOpacity":0.5},"encoding":{"x":{"field":"g","type":"nominal","scale":{"domain":["C","B","1","3","6"],"paddingInner":0.05,"paddingOuter":0},"axis":null},"y":{"field":"n","type":"nominal","title":null},"fill":{"field":"lv","type":"quantitative","scale":{"domain":[0,0.5,0.75,1],"range":["#0b6cb0","#f8b8c4","#e35454","#c8102e"],"interpolate":"rgb"},"legend":{"title":null,"values":[-0.32,1.265],"labelExpr":"datum.value > 0.5 ? 'Max.' : 'Min.'","orient":"none","legendX":682,"legendY":288,"direction":"vertical","gradientLength":68,"gradientThickness":13,"gradientStrokeWidth":0,"labelOffset":-24,"labelOverlap":false,"labelFontSize":15,"labelFontWeight":"bold","labelFontStyle":"italic","labelColor":"black"}}}},
{"width":122,"height":27,"data":{"name":"hm"},"transform":[{"filter":"datum.n=='MCP1'"}],"mark":{"type":"rect","stroke":"#ffffff","strokeWidth":1,"strokeOpacity":0.5},"encoding":{"x":{"field":"g","type":"nominal","scale":{"domain":["C","B","1","3","6"],"paddingInner":0.05,"paddingOuter":0},"axis":null},"y":{"field":"n","type":"nominal","title":null},"fill":{"field":"lv","type":"quantitative","scale":{"domain":[0,0.5,0.75,1],"range":["#0b6cb0","#f8b8c4","#e35454","#c8102e"],"interpolate":"rgb"},"legend":{"title":null,"values":[-0.32,1.265],"labelExpr":"datum.value > 0.5 ? 'Max.' : 'Min.'","orient":"none","legendX":682,"legendY":288,"direction":"vertical","gradientLength":68,"gradientThickness":13,"gradientStrokeWidth":0,"labelOffset":-24,"labelOverlap":false,"labelFontSize":15,"labelFontWeight":"bold","labelFontStyle":"italic","labelColor":"black"}}}},
{"width":122,"height":27,"data":{"name":"hm"},"transform":[{"filter":"datum.n=='ICAM1'"}],"mark":{"type":"rect","stroke":"#ffffff","strokeWidth":1,"strokeOpacity":0.5},"encoding":{"x":{"field":"g","type":"nominal","scale":{"domain":["C","B","1","3","6"],"paddingInner":0.05,"paddingOuter":0},"axis":null},"y":{"field":"n","type":"nominal","title":null},"fill":{"field":"lv","type":"quantitative","scale":{"domain":[0,0.5,0.75,1],"range":["#0b6cb0","#f8b8c4","#e35454","#c8102e"],"interpolate":"rgb"},"legend":{"title":null,"values":[-0.32,1.265],"labelExpr":"datum.value > 0.5 ? 'Max.' : 'Min.'","orient":"none","legendX":682,"legendY":288,"direction":"vertical","gradientLength":68,"gradientThickness":13,"gradientStrokeWidth":0,"labelOffset":-24,"labelOverlap":false,"labelFontSize":15,"labelFontWeight":"bold","labelFontStyle":"italic","labelColor":"black"}}}},
{"width":122,"height":27,"data":{"name":"hm"},"transform":[{"filter":"datum.n=='TNF-α'"}],"mark":{"type":"rect","stroke":"#ffffff","strokeWidth":1,"strokeOpacity":0.5},"encoding":{"x":{"field":"g","type":"nominal","scale":{"domain":["C","B","1","3","6"],"paddingInner":0.05,"paddingOuter":0},"axis":null},"y":{"field":"n","type":"nominal","title":null},"fill":{"field":"lv","type":"quantitative","scale":{"domain":[0,0.5,0.75,1],"range":["#0b6cb0","#f8b8c4","#e35454","#c8102e"],"interpolate":"rgb"},"legend":{"title":null,"values":[-0.32,1.265],"labelExpr":"datum.value > 0.5 ? 'Max.' : 'Min.'","orient":"none","legendX":682,"legendY":288,"direction":"vertical","gradientLength":68,"gradientThickness":13,"gradientStrokeWidth":0,"labelOffset":-24,"labelOverlap":false,"labelFontSize":15,"labelFontWeight":"bold","labelFontStyle":"italic","labelColor":"black"}}}}
],
"config": {
"font": "Liberation Sans",
"view": {"stroke": null},
"title": {"fontSize": 16, "fontWeight": "bold", "offset": 4, "color": "black", "font": "Liberation Sans"},
"axis": {"grid": false, "domainColor": "black", "domainWidth": 2, "tickColor": "black", "tickWidth": 2, "labelColor": "black", "labelFontWeight": "bold", "titleColor": "black", "labelFont": "Liberation Sans", "titleFont": "Liberation Sans"},
"axisYQuantitative": {"labelFontSize": 15, "tickSize": 6, "labelPadding": 2, "labelOverlap": false, "tickCount": 10, "titleFontSize": 17, "titleFontWeight": "bold", "titlePadding": 2},
"axisXBand": {"labelAngle": -45, "labelFontStyle": "italic", "labelFontSize": 14, "tickSize": 7, "labelPadding": 2, "labelExpr": "datum.value=='C'?'Control':datum.value=='B'?'Baseline':datum.value=='1'?'1 month':datum.value=='3'?'3 months':'6 months'"},
"axisYBand": {"domain": false, "ticks": false, "labelFontStyle": "italic", "labelFontWeight": "bold", "labelFontSize": 13, "labelPadding": 3},
"legend": {"labelFont": "Liberation Sans", "titleFont": "Liberation Sans"}
}
}
